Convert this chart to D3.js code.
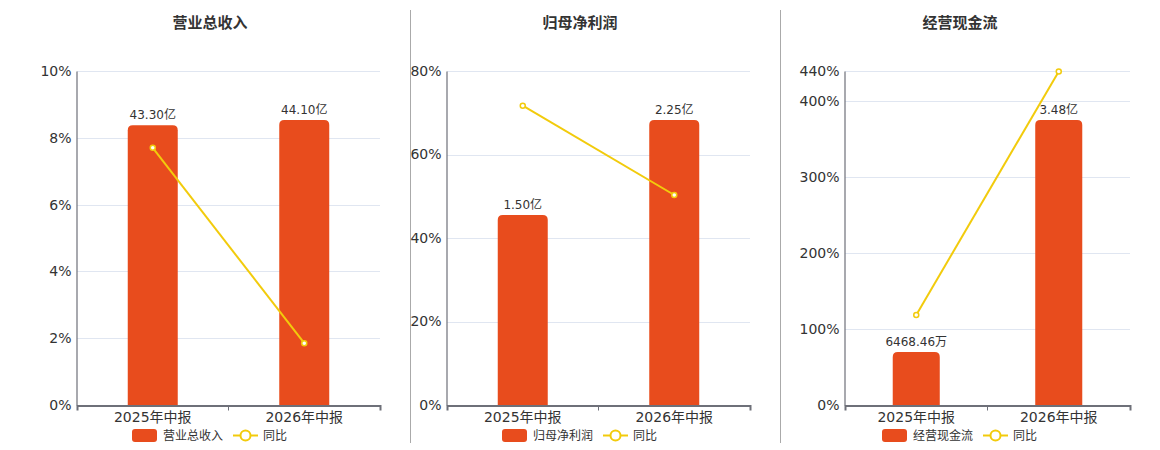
<!DOCTYPE html>
<html>
<head>
<meta charset="utf-8">
<script src="https://cdn.jsdelivr.net/npm/d3@7"></script>
<style>
  body { margin: 0; background: #fff; }
  text { font-family: "DejaVu Sans", "Noto Sans CJK SC", sans-serif; }
</style>
</head>
<body>
<div id="chart"></div>
<script>
// data
var categories = ["2025年中报", "2026年中报"];

var revenue = [43.30, 44.10];
var revenueLabels = ["43.30亿", "44.10亿"];
var revenueYoy = [7.7, 1.85];
var revenueTicks = [0, 2, 4, 6, 8, 10];

var profit = [1.50, 2.25];
var profitLabels = ["1.50亿", "2.25亿"];
var profitYoy = [71.7, 50.3];
var profitTicks = [0, 20, 40, 60, 80];

var cash = [0.646846, 3.48];
var cashLabels = ["6468.46万", "3.48亿"];
var cashYoy = [118.6, 439.5];
var cashTicks = [0, 100, 200, 300, 400, 440];

var titles = ["营业总收入", "归母净利润", "经营现金流"];

var barColor = "#e84c1d",
    lineColor = "#f2cb0c",
    textColor = "#333";

var W = 1160, H = 450;
var plotTop = 71, plotBottom = 405;

var svg = d3.select("#chart")
  .append("svg")
  .attr("width", W)
  .attr("height", H);

// panel layout
var panels = [
  {title: titles[0], left: 77, right: 380, titleX: 210, legendX: 132, bars: revenue, labels: revenueLabels, yoy: revenueYoy, ticks: revenueTicks},
  {title: titles[1], left: 447, right: 750, titleX: 580, legendX: 502, bars: profit, labels: profitLabels, yoy: profitYoy, ticks: profitTicks},
  {title: titles[2], left: 845, right: 1130, titleX: 960, legendX: 882, bars: cash, labels: cashLabels, yoy: cashYoy, ticks: cashTicks}
];

// dividers
[410.5, 780.5].forEach(function(x) {
  svg.append("line")
    .attr("x1", x).attr("x2", x)
    .attr("y1", 10).attr("y2", 443)
    .attr("stroke", "#aaa")
    .attr("stroke-width", 1);
});

function topRounded(x, y, w, h, r) {
  r = Math.min(r, h, w / 2);
  return "M" + x + "," + (y + h) +
    "V" + (y + r) +
    "Q" + x + "," + y + " " + (x + r) + "," + y +
    "H" + (x + w - r) +
    "Q" + (x + w) + "," + y + " " + (x + w) + "," + (y + r) +
    "V" + (y + h) + "Z";
}

panels.forEach(function(p) {
  var g = svg.append("g");

  // title
  g.append("text")
    .attr("x", p.titleX).attr("y", 28)
    .attr("text-anchor", "middle")
    .style("font-size", "15px")
    .style("font-weight", "bold")
    .attr("fill", textColor)
    .text(p.title);

  var x = d3.scaleBand()
    .domain(categories)
    .range([p.left, p.right]);

  var yMax = d3.max(p.ticks);
  var y = d3.scaleLinear()
    .domain([0, yMax])
    .range([plotBottom, plotTop]);

  // hidden bar axis
  var yBar = d3.scaleLinear()
    .domain([0, d3.max(p.bars) * 334 / 285])
    .range([plotBottom, plotTop]);

  // grid
  g.selectAll(".grid")
    .data(p.ticks.filter(function(t) { return t > 0; }))
    .enter().append("line")
    .attr("x1", p.left).attr("x2", p.right)
    .attr("y1", function(d) { return Math.round(y(d)) + 0.5; })
    .attr("y2", function(d) { return Math.round(y(d)) + 0.5; })
    .attr("stroke", "#e0e6f1")
    .attr("stroke-width", 1);

  // y axis
  var yAxis = g.append("g")
    .attr("transform", "translate(" + (p.left - 0.5) + ",0)")
    .call(d3.axisLeft(y).tickValues(p.ticks).tickSize(0).tickPadding(5)
      .tickFormat(function(d) { return d + "%"; }));
  yAxis.select(".domain").attr("stroke", "#6e7079").attr("stroke-width", 1.2);
  yAxis.selectAll("text")
    .attr("fill", textColor)
    .style("font-size", "14px")
    .style("font-family", "'DejaVu Sans', sans-serif");

  // bars
  var bw = x.bandwidth() * 0.33;
  g.selectAll(".bar")
    .data(p.bars)
    .enter().append("path")
    .attr("fill", barColor)
    .attr("d", function(d, i) {
      var cx = x(categories[i]) + x.bandwidth() / 2;
      return topRounded(cx - bw / 2, yBar(d), bw, plotBottom - yBar(d), 5);
    });

  // bar labels
  g.selectAll(".blabel")
    .data(p.bars)
    .enter().append("text")
    .attr("x", function(d, i) { return x(categories[i]) + x.bandwidth() / 2; })
    .attr("y", function(d) { return yBar(d) - 6; })
    .attr("text-anchor", "middle")
    .attr("fill", textColor)
    .style("font-size", "12px")
    .text(function(d, i) { return p.labels[i]; });

  // x axis
  var xAxis = g.append("g")
    .attr("transform", "translate(0," + (plotBottom + 0.5) + ")")
    .call(d3.axisBottom(x).tickSizeInner(0).tickSizeOuter(5).tickPadding(7));
  xAxis.select(".domain").attr("stroke", "#6e7079").attr("stroke-width", 2);
  xAxis.selectAll("text")
    .attr("fill", textColor)
    .style("font-size", "14px");
  // middle tick
  xAxis.append("line")
    .attr("x1", (p.left + p.right) / 2).attr("x2", (p.left + p.right) / 2)
    .attr("y1", 0).attr("y2", 5)
    .attr("stroke", "#6e7079");

  // yoy line
  var line = d3.line()
    .x(function(d, i) { return x(categories[i]) + x.bandwidth() / 2; })
    .y(function(d) { return y(d); });
  g.append("path")
    .datum(p.yoy)
    .attr("fill", "none")
    .attr("stroke", lineColor)
    .attr("stroke-width", 2)
    .attr("d", line);
  g.selectAll(".pt")
    .data(p.yoy)
    .enter().append("circle")
    .attr("cx", function(d, i) { return x(categories[i]) + x.bandwidth() / 2; })
    .attr("cy", function(d) { return y(d); })
    .attr("r", 2.5)
    .attr("fill", "#fff")
    .attr("stroke", lineColor)
    .attr("stroke-width", 1.5);

  // legend
  var lg = g.append("g").attr("transform", "translate(" + p.legendX + ",429)");
  lg.append("rect")
    .attr("width", 25).attr("height", 13).attr("rx", 3)
    .attr("fill", barColor);
  lg.append("text")
    .attr("x", 31).attr("y", 11)
    .attr("fill", textColor)
    .style("font-size", "12px")
    .text(p.title);
  lg.append("line")
    .attr("x1", 101).attr("x2", 126)
    .attr("y1", 6.5).attr("y2", 6.5)
    .attr("stroke", lineColor).attr("stroke-width", 2);
  lg.append("circle")
    .attr("cx", 113.5).attr("cy", 6.5).attr("r", 5)
    .attr("fill", "#fff")
    .attr("stroke", lineColor).attr("stroke-width", 2);
  lg.append("text")
    .attr("x", 131).attr("y", 11)
    .attr("fill", textColor)
    .style("font-size", "12px")
    .text("同比");
});
</script>
</body>
</html>
